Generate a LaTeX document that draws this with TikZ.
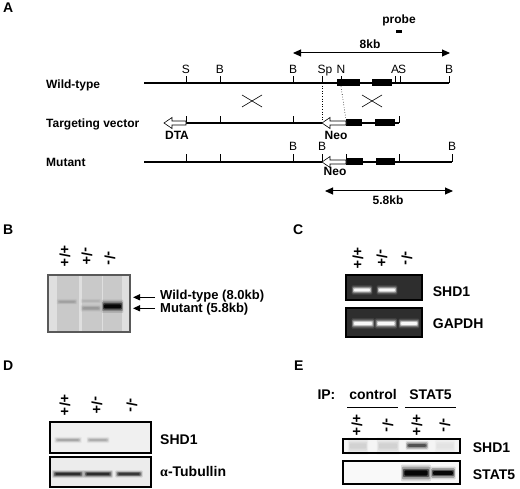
\documentclass[tikz,border=0pt]{standalone}
\usepackage{fontspec}
\setmainfont{Liberation Sans}
\newfontfamily\greekfont{Liberation Serif}
\usetikzlibrary{arrows.meta}

\tikzset{
  dna/.style={line width=1.9pt},
  site/.style={line width=0.9pt},
  sitelabel/.style={font=\fontsize{12}{14}\selectfont, inner sep=0pt, anchor=base},
  rowlabel/.style={font=\fontsize{12}{14}\selectfont\bfseries, inner sep=0pt, anchor=base west},
  smalllabel/.style={font=\fontsize{12}{14}\selectfont\bfseries, inner sep=0pt, anchor=base},
  panel/.style={font=\fontsize{14}{16}\selectfont\bfseries, inner sep=0pt, anchor=base west},
  blotlabel/.style={font=\fontsize{14}{16}\selectfont\bfseries, inner sep=0pt, anchor=base west},
  geno/.style={font=\fontsize{14.5}{16}\selectfont\bfseries, inner sep=0pt, rotate=-90},
  exon/.style={fill=black},
  cassette/.style={draw=black, fill=white, line width=0.6pt},
  span/.style={line width=1pt, {Triangle[length=8pt,width=7pt]}-{Triangle[length=8pt,width=7pt]}},
  pointer/.style={line width=1.2pt, -{Triangle[length=7pt,width=6pt]}},
  frame/.style={draw=black, line width=1.1pt},
}

\newcommand{\cassettearrow}[3]{% tail x, tip x, y
  \draw[cassette] (#1,#3-2) -- (#2+8,#3-2) -- (#2+8,#3-5.5) -- (#2,#3)
    -- (#2+8,#3+5.5) -- (#2+8,#3+2) -- (#1,#3+2) -- cycle;}
\newcommand{\gelband}[5]{% x, y, half width, half height, colour
  \foreach \a/\b/\o in {1.15/2.0/0.12,1.08/1.5/0.25,1.0/1.0/0.5,0.9/0.6/0.9}
    \fill[#5, opacity=\o, rounded corners=1pt]
      ({#1-#3*\a},{#2-#4*\b}) rectangle ({#1+#3*\a},{#2+#4*\b});}

\begin{document}
\begin{tikzpicture}[x=1pt,y=-1pt]
\useasboundingbox (0,0) rectangle (520,489);

% A: targeting strategy
\node[panel] (panelA) at (3,12.7) {A};
\node[smalllabel] (probe) at (399,23.5) {probe};
\fill (396,30) rectangle (402,33);
\coordinate (eightL) at (293,53);
\coordinate (eightR) at (450,53);
\draw[span] (eightL) -- (eightR);
\node[smalllabel] (eightkb) at (370,49) {8kb};

\node[rowlabel] (wildtype) at (46,88.5) {Wild-type};
\node[rowlabel] (vector) at (46,128) {Targeting vector};
\node[rowlabel] (mutant) at (46,167) {Mutant};

\draw[dna] (144,83) -- (449,83);
\foreach \x in {186,220,293,322,341,395,400,449} \draw[site] (\x,83) -- (\x,76);
\foreach \x/\t/\n in {186/S/wtSa,220/B/wtBa,293/B/wtBb,325/Sp/wtSp,341/N/wtN,395/A/wtA,402/S/wtSb,449/B/wtBc}
  \node[sitelabel] (\n) at (\x,74) {\t};
\fill[exon] (337,79.5) rectangle (360,86.5);
\fill[exon] (372,79.5) rectangle (392,86.5);

\draw[line width=0.6pt] (242,95) -- (262,107) (242,107) -- (262,95);
\draw[line width=0.6pt] (362,95) -- (382,107) (362,107) -- (382,95);
\draw[dotted, line width=0.6pt] (322,83) -- (322,121);
\draw[dotted, line width=0.6pt] (341,86.5) -- (346,120);

\draw[dna] (186,123) -- (322,123);
\draw[dna] (346,123) -- (399,123);
\foreach \x in {186,220,293,399} \draw[site] (\x,123) -- (\x,116);
\fill[exon] (346,119.5) rectangle (362,126.5);
\fill[exon] (375,119.5) rectangle (395,126.5);
\cassettearrow{346}{322}{123}
\cassettearrow{186}{164}{123}
\node[smalllabel] (dta) at (177,139.5) {DTA};
\node[smalllabel] (neoV) at (336,139.5) {Neo};

\draw[dna] (144,162) -- (322,162);
\draw[dna] (346,162) -- (452,162);
\foreach \x in {186,220,293,322,346,399,452} \draw[site] (\x,162) -- (\x,154);
\foreach \x/\n in {293/muBa,322/muBb,452/muBc}
  \node[sitelabel] (\n) at (\x,151) {B};
\fill[exon] (346,158.5) rectangle (363,165.5);
\fill[exon] (376,158.5) rectangle (395,165.5);
\cassettearrow{346}{322}{162}
\node[smalllabel] (neoM) at (335,175.5) {Neo};
\coordinate (fiveL) at (325,191);
\coordinate (fiveR) at (453,191);
\draw[span] (fiveL) -- (fiveR);
\node[smalllabel] (fivekb) at (388,204.5) {5.8kb};

% B: Southern blot
\node[panel] (panelB) at (3,235) {B};
\node[geno] (bpp) at (65,256) {+/+};
\node[geno] (bmp) at (87,256) {-/+};
\node[geno] (bmm) at (110,258) {-/-};
\fill[gray!25] (48,275) rectangle (130,332);
\foreach \x/\w in {67.5/11,91.5/10,112.5/9.5}
  \fill[gray!42] (\x-\w,276) rectangle (\x+\w,331);
\gelband{67}{301.7}{9}{1.4}{gray!75}
\gelband{91}{301}{9}{1.2}{gray!60}
\gelband{91}{308.3}{9}{1.8}{gray!80}
\gelband{112.5}{306.3}{9.5}{3.3}{black}
\draw[frame, draw=gray!70!black] (48,275) rectangle (130,332);
\node[blotlabel, font=\fontsize{13}{15}\selectfont\bfseries] (wtband) at (160,300) {Wild-type (8.0kb)};
\node[blotlabel, font=\fontsize{13}{15}\selectfont\bfseries] (muband) at (160,312.5) {Mutant (5.8kb)};
\coordinate (wttip) at (133,297.3);
\coordinate (mutip) at (133,308.3);
\draw[pointer] (155,297.3) -- (wttip);
\draw[pointer] (155,308.3) -- (mutip);

% C: RT-PCR
\node[panel] (panelC) at (293,235) {C};
\node[geno] (cpp) at (358,258) {+/+};
\node[geno] (cmp) at (382,258) {-/+};
\node[geno] (cmm) at (407,258) {-/-};
\fill[black!82] (346,275) rectangle (422,300);
\gelband{362}{290}{9}{2.3}{white}
\gelband{387}{290}{9}{2.3}{white}
\draw[frame] (346,275) rectangle (422,300);
\fill[black!82] (346,308) rectangle (422,337);
\gelband{363}{323.5}{10}{2.6}{white}
\gelband{386}{323.5}{9.5}{2.6}{white}
\gelband{409}{323.5}{9}{2.4}{white}
\draw[frame] (346,308) rectangle (422,337);
\node[blotlabel] (cshd) at (432.7,296.7) {SHD1};
\node[blotlabel] (cgapdh) at (432.7,328.5) {GAPDH};

% D: western blot
\node[panel] (panelD) at (3,370.5) {D};
\node[geno] (dpp) at (65,405) {+/+};
\node[geno] (dmp) at (97,405) {-/+};
\node[geno] (dmm) at (132,405) {-/-};
\fill[gray!12] (50,422) rectangle (151,453);
\gelband{68}{440}{12}{1.6}{gray!70}
\gelband{98}{440}{10}{1.6}{gray!65}
\draw[frame] (50,422) rectangle (151,453);
\fill[gray!15] (50,457) rectangle (151,487);
\gelband{68}{474}{14}{2}{black!85}
\gelband{98}{474}{13}{2}{black!85}
\gelband{129}{474}{12}{1.8}{black!80}
\draw[frame] (50,457) rectangle (151,487);
\node[blotlabel] (dshd) at (160,444) {SHD1};
\node[blotlabel] (dtub) at (160,476.7) {{\greekfont α}-Tubullin};

% E: co-immunoprecipitation
\node[panel] (panelE) at (294,370.5) {E};
\node[blotlabel] (ip) at (317.3,399.3) {IP:};
\node[blotlabel, anchor=base] (control) at (373,399.3) {control};
\node[blotlabel, anchor=base] (stat) at (430.5,399.3) {STAT5};
\draw[line width=1pt] (347,407) -- (398,407);
\draw[line width=1pt] (405,407) -- (456,407);
\node[geno] (epp) at (357,425) {+/+};
\node[geno] (emm) at (388,425) {-/-};
\node[geno] (fpp) at (417,425) {+/+};
\node[geno] (fmm) at (445,425) {-/-};
\fill[gray!8] (343,439) rectangle (460,453);
\gelband{358}{446}{9}{4.5}{gray!35}
\gelband{388}{446}{10}{4.5}{gray!35}
\gelband{417}{445.5}{10}{2.2}{black!70}
\gelband{445}{446}{9}{4}{gray!22}
\draw[frame] (343,439) rectangle (460,453);
\fill[gray!5] (343,461) rectangle (460,484);
\gelband{416}{473}{13}{4.2}{black}
\gelband{443}{473}{11}{3.2}{black}
\draw[frame] (343,461) rectangle (460,484);
\node[blotlabel] (eshd) at (472.7,452.3) {SHD1};
\node[blotlabel] (estat) at (472.7,479.3) {STAT5};
\end{tikzpicture}
\end{document}
